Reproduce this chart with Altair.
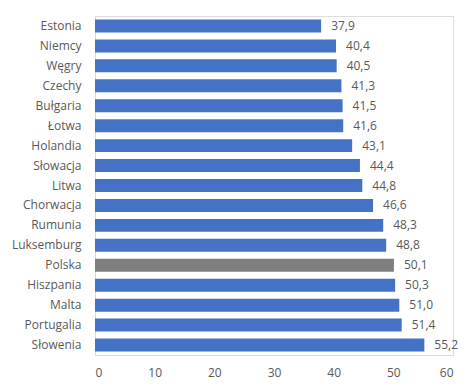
import altair as alt
import pandas as pd

countries = ["Estonia", "Niemcy", "Węgry", "Czechy", "Bułgaria", "Łotwa", "Holandia",
             "Słowacja", "Litwa", "Chorwacja", "Rumunia", "Luksemburg", "Polska",
             "Hiszpania", "Malta", "Portugalia", "Słowenia"]
values = [37.9, 40.4, 40.5, 41.3, 41.5, 41.6, 43.1, 44.4, 44.8, 46.6, 48.3, 48.8,
          50.1, 50.3, 51.0, 51.4, 55.2]
labels = [f"{v:.1f}".replace(".", ",") for v in values]
highlight = ["Polska"]

df = pd.DataFrame({"kraj": countries, "wartosc": values, "etykieta": labels})
df["grupa"] = ["hl" if c in highlight else "base" for c in countries]

FONT = "Open Sans"
GRAY = "#595959"

base = alt.Chart(df).encode(
    y=alt.Y("kraj:N", sort=countries, title=None,
            scale=alt.Scale(paddingInner=0.35, paddingOuter=0.175),
            axis=alt.Axis(ticks=False, labelPadding=14, labelFont=FONT, labelFontSize=12,
                          labelColor=GRAY, domainColor="#D9D9D9", domainWidth=1)),
)

bars = base.mark_bar().encode(
    x=alt.X("wartosc:Q", title=None,
            scale=alt.Scale(domain=[0, 60], nice=False),
            axis=alt.Axis(values=[0, 10, 20, 30, 40, 50, 60], grid=False, domain=False,
                          ticks=False, labelPadding=12, labelFont=FONT, labelFontSize=12,
                          labelColor=GRAY)),
    color=alt.Color("grupa:N", scale=alt.Scale(domain=["base", "hl"],
                                                range=["#4472C4", "#7F7F7F"]), legend=None),
)

text = base.mark_text(align="left", baseline="middle", dx=10, font=FONT, fontSize=12,
                      color=GRAY).encode(
    x=alt.X("wartosc:Q"),
    text="etykieta:N",
)

chart = (bars + text).properties(
    width=358, height=339,
    autosize=alt.AutoSizeParams(type="none"),
    padding={"left": 87, "top": 8, "right": 13, "bottom": 33},
).configure_view(stroke=None).configure(background="white")

chart.save("out.html", embed_options={"renderer": "svg", "actions": False})
